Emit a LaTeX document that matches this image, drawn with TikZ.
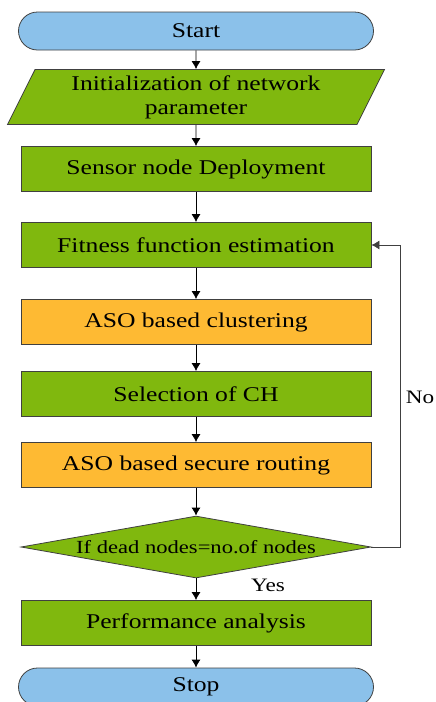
\documentclass[tikz,border=0pt]{standalone}
\usepackage{fontspec}
\setmainfont{Liberation Serif}[FakeStretch=1.22]
\usetikzlibrary{shapes.geometric,arrows.meta}

\definecolor{termblue}{RGB}{139,193,234}
\definecolor{procgreen}{RGB}{128,184,14}
\definecolor{procorange}{RGB}{254,186,51}
\definecolor{edgegray}{RGB}{64,64,64}

\tikzset{
  boxbase/.style={draw=edgegray,line width=0.8pt,font=\fontsize{21}{24}\selectfont,inner sep=0pt},
  termbox/.style={boxbase,fill=termblue,minimum width=355pt,minimum height=38pt,rounded corners=19pt},
  procbox/.style={boxbase,fill=procgreen,minimum width=350pt,minimum height=45pt},
  secbox/.style={procbox,fill=procorange},
  iobox/.style={boxbase,fill=procgreen,trapezium,trapezium left angle=57.5,trapezium right angle=122.5,
    trapezium stretches body,minimum width=377pt,minimum height=55pt,align=center},
  decbox/.style={boxbase,fill=procgreen,diamond,aspect=5.6,minimum width=350pt,minimum height=62pt,
    font=\fontsize{18.5}{22}\selectfont},
  arr/.style={-{Latex[length=8pt,width=9pt]},line width=0.8pt},
  lbl/.style={font=\fontsize{19}{22}\selectfont}
}

\begin{document}
\begin{tikzpicture}[x=1pt,y=-1pt]
  \useasboundingbox (0,0) rectangle (436,702);

  % the flow of steps
  \node[termbox] (start)  at (196,31)  {Start};
  \node[iobox]   (init)   at (196,97)  {Initialization of network\\parameter};
  \node[procbox] (deploy) at (196,169) {Sensor node Deployment};
  \node[procbox] (fit)    at (196,245) {Fitness function estimation};
  \node[secbox]  (clus)   at (196,322) {ASO based clustering};
  \node[procbox] (sel)    at (196,394) {Selection of CH};
  \node[secbox]  (route)  at (196,465) {ASO based secure routing};
  \node[decbox]  (dec)    at (196,547) {If dead nodes=no.of nodes};
  \node[procbox] (perf)   at (196,623) {Performance analysis};
  \node[termbox] (stop)   at (196,687) {Stop};

  % straight arrows down the chart
  \foreach \a/\b in {start/init,init/deploy,deploy/fit,fit/clus,clus/sel,sel/route,route/dec,dec/perf,perf/stop}
    \draw[arr] (\a.south) -- (\b.north);

  % the loop back when the test fails
  \coordinate (loop) at (400,245);
  \draw[arr,edgegray] (dec.east) -| (loop) -- (fit.east);
  \node[lbl] (no)  at (420,397) {No};
  \node[lbl] (yes) at (268,585) {Yes};
\end{tikzpicture}
\end{document}
